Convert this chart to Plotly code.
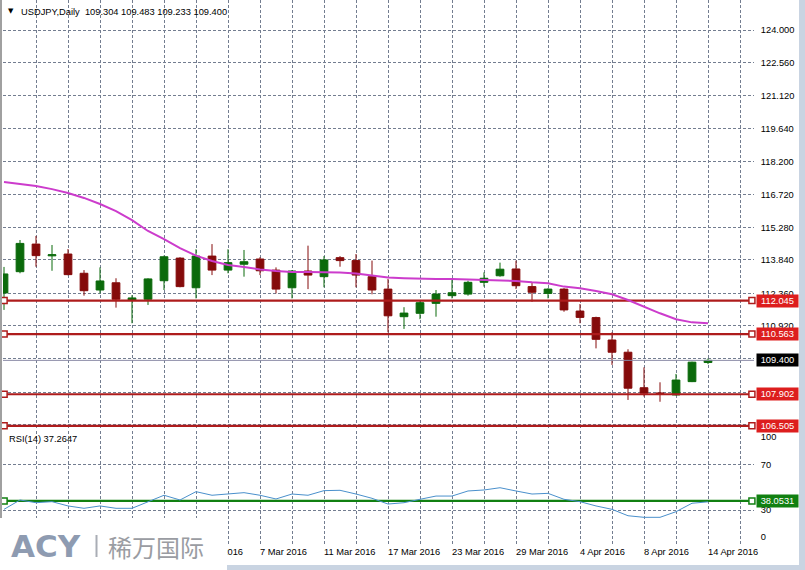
import plotly.graph_objects as go

# ---------------- data ----------------
dates = ["12 Feb 2016", "15 Feb 2016", "16 Feb 2016", "17 Feb 2016", "18 Feb 2016", "19 Feb 2016",
         "22 Feb 2016", "23 Feb 2016", "24 Feb 2016", "25 Feb 2016", "26 Feb 2016", "29 Feb 2016",
         "1 Mar 2016", "2 Mar 2016", "3 Mar 2016", "4 Mar 2016", "7 Mar 2016", "8 Mar 2016",
         "9 Mar 2016", "10 Mar 2016", "11 Mar 2016", "14 Mar 2016", "15 Mar 2016", "16 Mar 2016",
         "17 Mar 2016", "18 Mar 2016", "21 Mar 2016", "22 Mar 2016", "23 Mar 2016", "24 Mar 2016",
         "25 Mar 2016", "28 Mar 2016", "29 Mar 2016", "30 Mar 2016", "31 Mar 2016", "1 Apr 2016",
         "4 Apr 2016", "5 Apr 2016", "6 Apr 2016", "7 Apr 2016", "8 Apr 2016", "11 Apr 2016",
         "12 Apr 2016", "13 Apr 2016", "14 Apr 2016"]

opens = [112.38, 113.32, 114.54, 114.02, 114.10, 113.25, 112.51, 112.83, 112.05, 112.10,
         112.92, 113.92, 112.61, 114.01, 113.39, 113.65, 113.88, 113.39, 112.61, 113.35,
         113.10, 113.94, 113.81, 113.10, 112.55, 111.33, 111.48, 111.92, 112.26, 112.33,
         112.85, 113.14, 113.44, 112.66, 112.36, 112.55, 111.58, 111.29, 110.30, 109.76,
         108.19, 107.96, 107.87, 108.46, 109.304]
highs = [113.53, 114.72, 114.90, 114.50, 114.32, 113.39, 113.51, 113.03, 112.28, 113.03,
         114.03, 113.96, 114.31, 114.54, 114.31, 114.28, 113.96, 113.51, 113.39, 114.47,
         114.01, 114.01, 114.10, 113.81, 113.00, 111.75, 112.02, 112.51, 112.95, 112.92,
         113.29, 113.72, 113.81, 112.83, 112.59, 112.59, 111.89, 111.33, 110.64, 109.89,
         109.09, 108.43, 108.80, 109.34, 109.483]
lows = [111.63, 113.25, 113.54, 113.36, 113.16, 112.26, 112.36, 111.73, 111.04, 111.85,
        112.51, 112.63, 112.14, 113.17, 113.25, 113.10, 113.17, 112.36, 112.14, 112.55,
        112.63, 113.54, 112.63, 112.32, 110.64, 110.79, 111.22, 111.33, 112.14, 112.26,
        112.66, 113.10, 112.55, 111.99, 112.14, 111.55, 111.04, 109.93, 109.20, 107.65,
        107.80, 107.57, 107.85, 108.44, 109.233]
closes = [113.22, 114.57, 114.03, 114.07, 113.19, 112.48, 112.91, 112.10, 112.16, 113.00,
          113.98, 112.66, 114.01, 113.39, 113.72, 113.76, 113.36, 112.55, 113.35, 113.17,
          113.84, 113.81, 113.17, 112.51, 111.37, 111.49, 111.95, 112.33, 112.39, 112.85,
          113.03, 113.43, 112.70, 112.41, 112.55, 111.63, 111.30, 110.33, 109.76, 108.17,
          107.95, 107.93, 108.53, 109.32, 109.400]

ma = [117.28, 117.19, 117.11, 116.97, 116.80, 116.58, 116.31, 116.00, 115.60, 115.12,
      114.76, 114.36, 114.03, 113.79, 113.62, 113.53, 113.42, 113.35, 113.31, 113.31,
      113.31, 113.28, 113.24, 113.15, 113.06, 113.03, 113.00, 113.00, 113.00, 112.98,
      112.98, 112.95, 112.91, 112.85, 112.81, 112.66, 112.59, 112.47, 112.32, 112.07,
      111.77, 111.48, 111.22, 111.08, 111.04]

rsi = [30.6, 38.9, 36.5, 37.4, 33.6, 31.5, 33.6, 31.5, 31.5, 37.4,
       43.1, 38.9, 46.3, 43.1, 44.2, 45.4, 43.1, 39.8, 44.2, 43.1,
       47.2, 47.5, 44.2, 40.4, 35.3, 36.5, 39.5, 42.4, 42.4, 46.9,
       47.8, 49.8, 46.9, 44.2, 44.8, 39.5, 37.4, 33.6, 30.6, 24.9,
       23.5, 23.5, 28.5, 36.0, 37.2647]

price_ticks = [124.000, 122.560, 121.120, 119.640, 118.200, 116.720, 115.280,
               113.840, 112.360, 110.920, 109.480, 108.000, 106.560]
red_levels = [112.045, 110.563, 107.902, 106.505]
rsi_level = 38.0531
rsi_ticks = [30, 70]
rsi_edge_labels = ["100", "0"]
date_labels = ["1 Mar 2016", "7 Mar 2016", "11 Mar 2016", "17 Mar 2016", "23 Mar 2016",
               "29 Mar 2016", "4 Apr 2016", "8 Apr 2016", "14 Apr 2016"]

# ---------------- layout helpers ----------------
W, H = 805, 570
ML, MR, MT, MB = 3, 51, 0, 25
PW, PH = W - ML - MR, H - MT - MB


def X(px):
    return (px - ML) / PW


def Y(py):
    return (H - MB - py) / PH


XR = [-0.0625, 46.875]
YR = [106.41, 125.33]
Y2R = [-1.1, 100.2]
# the terminal pulls the 100 / 0 scale labels inside the sub-window
EDGE_POS = [94.9, 6.0]

FONT = "Liberation Sans, Arial, sans-serif"
FS = 9.3
GRID = "#737d90"
UP = "#0b6a0b"
DN = "#850b0b"
RED = "#ae1c1c"
REDBOX = "#dd1e1e"
GREEN = "#118011"
MAG = "#cc3ccc"
RSIC = "#4a90cc"

idx = list(range(len(dates)))
x_lo, x_hi = XR[0] + 0.07, XR[1] - 0.13

fig = go.Figure()

# horizontal level lines (behind candles)
for lv in red_levels:
    fig.add_trace(go.Scatter(
        x=[x_lo, x_hi], y=[lv, lv], mode="lines+markers", xaxis="x", yaxis="y",
        line=dict(color=RED, width=2.2),
        marker=dict(symbol="square", size=6, color="white", line=dict(color=RED, width=1.5)),
        cliponaxis=False, hoverinfo="skip", showlegend=False))

# bid line
fig.add_trace(go.Scatter(
    x=XR, y=[closes[-1], closes[-1]], mode="lines", xaxis="x", yaxis="y",
    line=dict(color="#8a8aa6", width=1), hoverinfo="skip", showlegend=False))

# candles
fig.add_trace(go.Candlestick(
    x=idx, open=opens, high=highs, low=lows, close=closes, xaxis="x", yaxis="y",
    increasing=dict(line=dict(color=UP, width=1), fillcolor=UP),
    decreasing=dict(line=dict(color=DN, width=1), fillcolor=DN),
    whiskerwidth=0, hoverinfo="skip", showlegend=False))

# moving average
fig.add_trace(go.Scatter(
    x=idx, y=ma, mode="lines", xaxis="x", yaxis="y",
    line=dict(color=MAG, width=2), hoverinfo="skip", showlegend=False))

# RSI level and line
fig.add_trace(go.Scatter(
    x=[x_lo, x_hi], y=[rsi_level, rsi_level], mode="lines+markers", xaxis="x", yaxis="y2",
    line=dict(color=GREEN, width=2.2),
    marker=dict(symbol="square", size=6, color="white", line=dict(color=GREEN, width=1.5)),
    cliponaxis=False, hoverinfo="skip", showlegend=False))
fig.add_trace(go.Scatter(
    x=idx, y=rsi, mode="lines", xaxis="x", yaxis="y2",
    line=dict(color=RSIC, width=1), hoverinfo="skip", showlegend=False))
# invisible trace to activate the label-only overlay axis
fig.add_trace(go.Scatter(
    x=[XR[0]], y=[50], mode="markers", xaxis="x", yaxis="y3",
    marker=dict(opacity=0), hoverinfo="skip", showlegend=False))

tickfont = dict(family=FONT, size=FS, color="black")
boxfont = dict(family=FONT, size=FS, color="white")

annotations = []
# level labels
for lv in red_levels:
    annotations.append(dict(xref="paper", yref="y", x=X(756), y=lv, xanchor="left",
                            yanchor="middle", text=f"{lv:.3f}", showarrow=False,
                            bgcolor=REDBOX, width=41, height=12, borderpad=0, font=boxfont))
annotations.append(dict(xref="paper", yref="y", x=X(756), y=closes[-1], xanchor="left",
                        yanchor="middle", text=f"{closes[-1]:.3f}", showarrow=False,
                        bgcolor="black", width=41, height=12, borderpad=0, font=boxfont))
annotations.append(dict(xref="paper", yref="y2", x=X(756), y=rsi_level, xanchor="left",
                        yanchor="middle", text=f"{rsi_level:.4f}", showarrow=False,
                        bgcolor=GREEN, width=41, height=12, borderpad=0, font=boxfont))
# title and indicator label
annotations.append(dict(xref="paper", yref="paper", x=X(6), y=Y(11), xanchor="left",
                        yanchor="middle", text="▼", showarrow=False,
                        font=dict(family="DejaVu Sans", size=7, color="black")))
annotations.append(dict(xref="paper", yref="paper", x=X(19), y=Y(12), xanchor="left",
                        yanchor="middle",
                        text=f"USDJPY,Daily  {opens[-1]:.3f} {highs[-1]:.3f} {lows[-1]:.3f} {closes[-1]:.3f}",
                        showarrow=False, font=tickfont))
annotations.append(dict(xref="paper", yref="paper", x=X(7), y=Y(439), xanchor="left",
                        yanchor="middle", text=f"RSI(14) {rsi[-1]:.4f}", showarrow=False,
                        font=tickfont))
# logo
annotations.append(dict(xref="paper", yref="paper", x=X(9), y=Y(546), xanchor="left",
                        yanchor="middle", text="<b>ACY</b>", showarrow=False,
                        font=dict(family="DejaVu Sans", size=31, color="#8e9bb1")))
annotations.append(dict(xref="paper", yref="paper", x=X(106), y=Y(546), xanchor="left",
                        yanchor="middle", text="稀万国际", showarrow=False,
                        font=dict(family="Noto Sans CJK SC", size=24, color="#9a9ca2")))

shapes = [
    # left window frame
    dict(type="line", xref="paper", yref="paper", x0=X(1), x1=X(1), y0=Y(518), y1=Y(0),
         line=dict(color="#a0a0a0", width=2), layer="above"),
    # logo box
    dict(type="rect", xref="paper", yref="paper", x0=X(0), x1=X(227), y0=Y(571), y1=Y(518),
         fillcolor="white", line=dict(width=0), layer="above"),
    dict(type="line", xref="paper", yref="paper", x0=X(96.5), x1=X(96.5), y0=Y(557), y1=Y(535),
         line=dict(color="#a9adb5", width=2), layer="above"),
    # window borders
    dict(type="rect", xref="paper", yref="paper", x0=X(799), x1=X(806), y0=Y(571), y1=Y(-1),
         fillcolor="#c9d4e2", line=dict(width=0), layer="above"),
    dict(type="rect", xref="paper", yref="paper", x0=X(227), x1=X(806), y0=Y(571), y1=Y(565),
         fillcolor="#c9d4e2", line=dict(width=0), layer="above"),
]

fig.update_layout(
    width=W, height=H, margin=dict(l=ML, r=MR, t=MT, b=MB),
    paper_bgcolor="white", plot_bgcolor="white", showlegend=False,
    boxgap=0.31, hovermode=False,
    xaxis=dict(domain=[0, 1], anchor="y2", range=XR, showgrid=True, gridcolor=GRID,
               gridwidth=1, griddash="3px,2px", zeroline=False, showline=False,
               tickmode="array", tickvals=[dates.index(d) for d in date_labels],
               ticktext=date_labels, ticks="", ticklabelposition="outside right",
               tickfont=tickfont, rangeslider=dict(visible=False),
               minor=dict(tick0=0, dtick=2, showgrid=True, gridcolor=GRID, gridwidth=1,
                          griddash="3px,2px")),
    yaxis=dict(domain=[Y(428), 1], anchor="x", range=YR, side="right", showgrid=True,
               gridcolor=GRID, gridwidth=1, griddash="3px,2px", zeroline=False,
               showline=False, tickmode="array", tickvals=price_ticks,
               ticktext=[f"{v:.3f}" for v in price_ticks], ticks="outside", ticklen=4,
               tickcolor="rgba(0,0,0,0)", tickfont=tickfont),
    yaxis2=dict(domain=[0, Y(431)], anchor="x", range=Y2R, side="right", showgrid=True,
                gridcolor=GRID, gridwidth=1, griddash="3px,2px", zeroline=False,
                showline=False, tickmode="array", tickvals=rsi_ticks,
                ticktext=[str(v) for v in rsi_ticks], ticks="outside", ticklen=4,
                tickcolor="rgba(0,0,0,0)", tickfont=tickfont),
    yaxis3=dict(overlaying="y2", anchor="x", range=Y2R, side="right", showgrid=False,
                zeroline=False, showline=False, tickmode="array", tickvals=EDGE_POS,
                ticktext=rsi_edge_labels, ticks="outside", ticklen=4,
                tickcolor="rgba(0,0,0,0)", tickfont=tickfont),
    annotations=annotations, shapes=shapes,
)

fig.write_html("out.html", config={"displayModeBar": False, "staticPlot": True},
               post_script="document.body.style.margin='0px';"
                           "document.body.style.overflow='hidden';")
